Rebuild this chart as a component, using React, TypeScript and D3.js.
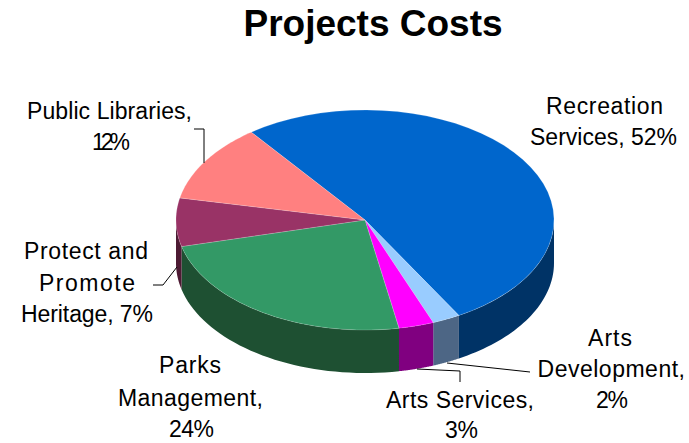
import React from "react";
import * as d3 from "d3";

const categories = ["Recreation Services", "Arts Development", "Arts Services", "Parks Management", "Protect and Promote Heritage", "Public Libraries"];
const shares = [52.0, 2.4, 3.0, 24.0, 7.1, 11.5];
const topColors = ["#0066cc", "#99ccff", "#ff00ff", "#339966", "#993366", "#ff8080"];
const sideColors = ["#003366", "#4d6685", "#800080", "#1e5032", "#4d1a33", "#804040"];

// text, left x, baseline y, fitted width
const labelLines: [string, number, number, number][] = [
  ["Recreation", 546, 114, 117],
  ["Services, 52%", 530, 145, 147],
  ["Arts", 588, 346, 44],
  ["Development,", 537.5, 377, 147.5],
  ["2%", 596, 408, 32],
  ["Arts Services,", 386, 408, 148],
  ["3%", 445, 438, 33],
  ["Parks", 159, 373, 62],
  ["Management,", 118, 406, 145],
  ["24%", 169, 437, 45],
  ["Protect and", 24, 259, 124],
  ["Promote", 39, 291, 96],
  ["Heritage, 7%", 21, 322, 132],
  ["Public Libraries,", 27, 119, 165],
  ["12%", 92, 150, 38],
];
const leaders: [number, number][][] = [
  [[447, 363], [530, 372]],
  [[417, 369], [460, 371], [460, 382]],
  [[153, 285], [163, 285], [177, 267]],
  [[194, 129], [204, 129], [204, 163]],
];

const cx = 365, cy = 220, rx = 189, ry = 110, depth = 43;
const TAU = Math.PI * 2;
const sx = d3.scaleLinear().domain([-1, 1]).range([cx - rx, cx + rx]);
const sy = d3.scaleLinear().domain([-1, 1]).range([cy - ry, cy + ry]);
const pie = d3.pie<number>().sort(null).startAngle((323 / 360) * TAU - TAU).endAngle((323 / 360) * TAU);
const arcs = pie(shares);
const line = d3.line<[number, number]>();

const rim = (a0: number, a1: number): [number, number][] =>
  d3.range(0, 41).map((i) => {
    const a = a0 + ((a1 - a0) * i) / 40;
    return [sx(Math.sin(a)), sy(-Math.cos(a))] as [number, number];
  });

const sidePath = (a0: number, a1: number) => {
  const pts = rim(a0, a1);
  const lower = pts.map(([x, y]) => [x, y + depth] as [number, number]).reverse();
  return line([...pts, ...lower]) + "Z";
};

export default function App() {
  const n = arcs.map((a) => {
    let s = a.startAngle + TAU, e = a.endAngle + TAU;
    while (s >= TAU) { s -= TAU; e -= TAU; }
    return { s, e, i: a.index };
  });
  return (
    <svg width={689} height={443} style={{ position: "absolute", left: 0, top: 0, background: "#fff" }} fontFamily="'Liberation Sans', Arial, sans-serif">
      <text x={373} y={36} textAnchor="middle" fontSize={37} fontWeight="bold" fill="#000">Projects Costs</text>
      {n.map((a) => {
        const parts: [number, number][] = [];
        for (const shift of [0, -TAU, TAU]) {
          const s = Math.max(a.s + shift, Math.PI / 2), e = Math.min(a.e + shift, (3 * Math.PI) / 2);
          if (e > s) parts.push([s, e]);
        }
        return parts.map(([s, e], k) => <path key={`${a.i}-${k}`} d={sidePath(s, e)} fill={sideColors[a.i]} />);
      })}
      {n.map((a) => (
        <path key={categories[a.i]} d={line([[cx, cy], ...rim(a.s, a.e)]) + "Z"} fill={topColors[a.i]} stroke="#fff" strokeOpacity={0.35} strokeWidth={0.5} />
      ))}
      {leaders.map((l, i) => (
        <path key={i} d={line(l) ?? ""} fill="none" stroke="#000" strokeWidth={1} />
      ))}
      {labelLines.map(([t, x, y, w]) => (
        <text key={t} x={x} y={y} fontSize={23} fill="#000" textLength={w} lengthAdjust="spacing">{t}</text>
      ))}
    </svg>
  );
}
